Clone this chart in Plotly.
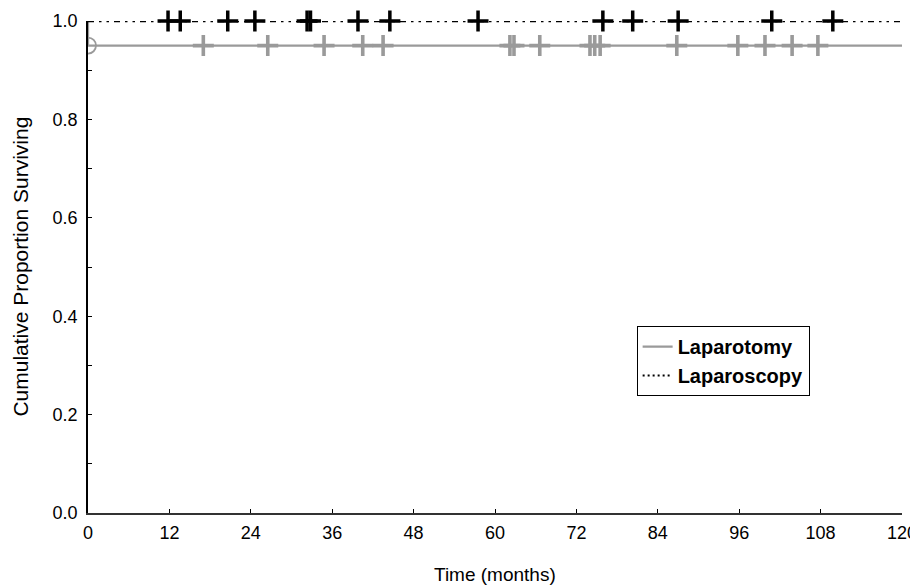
import plotly.graph_objects as go

# ---- data ----
x_ticks = [0, 12, 24, 36, 48, 60, 72, 84, 96, 108, 120]
y_ticks = [0.0, 0.2, 0.4, 0.6, 0.8, 1.0]

laparotomy_time = [0, 0, 120]
laparotomy_surv = [1.0, 0.95, 0.95]
laparotomy_censored = [17.0, 26.5, 34.8, 40.5, 43.5, 62.2, 62.8, 66.6, 74.0, 74.7,
                       75.5, 86.8, 95.8, 99.8, 103.8, 107.6]
laparotomy_censor_surv = 0.95

laparoscopy_time = [0, 120]
laparoscopy_surv = [1.0, 1.0]
laparoscopy_censored = [11.8, 13.6, 20.6, 24.6, 32.3, 32.8, 39.8, 44.5, 57.5, 75.9,
                        80.3, 87.0, 100.8, 109.8]
laparoscopy_censor_surv = 1.0

GRAY = "#9a9a9a"
FONT = "Liberation Sans, Arial, Helvetica, sans-serif"

fig = go.Figure()

# Laparotomy curve
fig.add_trace(go.Scatter(
    x=laparotomy_time, y=laparotomy_surv, mode="lines",
    line=dict(color=GRAY, width=2.3), name="Laparotomy",
    cliponaxis=False, showlegend=True))
# small open marker at the initial drop (half clipped by axis)
fig.add_trace(go.Scatter(
    x=[laparotomy_time[1]], y=[laparotomy_surv[1]], mode="markers",
    marker=dict(symbol="circle-open", size=16, color=GRAY, line=dict(width=1.8, color=GRAY)),
    cliponaxis=True, showlegend=False, hoverinfo="skip"))
fig.add_trace(go.Scatter(
    x=laparotomy_censored, y=[laparotomy_censor_surv] * len(laparotomy_censored),
    mode="markers",
    marker=dict(symbol="cross-thin", size=15, line=dict(width=3.6, color=GRAY), color=GRAY),
    cliponaxis=False, showlegend=False))

# Laparoscopy curve
fig.add_trace(go.Scatter(
    x=laparoscopy_time, y=laparoscopy_surv, mode="lines",
    line=dict(color="black", width=2.5, dash="6px,5px,2.5px,5px,2.5px,5px"),
    cliponaxis=False, showlegend=False))
fig.add_trace(go.Scatter(
    x=[None], y=[None], mode="lines",
    line=dict(color="black", width=2, dash="2px,3px"), name="Laparoscopy",
    showlegend=True))
fig.add_trace(go.Scatter(
    x=laparoscopy_censored, y=[laparoscopy_censor_surv] * len(laparoscopy_censored),
    mode="markers",
    marker=dict(symbol="cross-thin", size=15, line=dict(width=3.5, color="black"), color="black"),
    cliponaxis=False, showlegend=False))

# page body has an 8px margin, so the figure is offset by 8px and sized to fit
fig.update_layout(
    width=910, height=579,
    margin=dict(l=80, r=16, t=13, b=74),
    paper_bgcolor="white", plot_bgcolor="white",
    font=dict(family=FONT, size=18, color="black"),
    showlegend=True,
    legend=dict(
        x=0.674, y=0.38, xanchor="left", yanchor="top",
        bgcolor="white", bordercolor="black", borderwidth=1,
        font=dict(family=FONT, size=20, color="black", weight="bold"),
        tracegroupgap=0, itemwidth=30),
    annotations=[
        dict(text="Time (months)", x=0.5, y=-0.126, xref="paper", yref="paper",
             xanchor="center", yanchor="middle", showarrow=False,
             font=dict(family=FONT, size=19, color="black")),
        dict(text="Cumulative Proportion Surviving", x=-0.084, y=0.5,
             xref="paper", yref="paper", xanchor="center", yanchor="middle",
             textangle=-90, showarrow=False,
             font=dict(family=FONT, size=21, color="black")),
    ],
)

fig.update_xaxes(
    range=[0, 120], tickvals=x_ticks, ticktext=[str(v) for v in x_ticks],
    ticks="inside", ticklen=4, tickwidth=1, tickcolor="black",
    showline=True, linecolor="#333333", linewidth=1.5,
    showgrid=False, zeroline=False, ticklabelstandoff=3, automargin=False,
    ticklabeloverflow="allow",
)
fig.update_yaxes(
    range=[0, 1.0], tickvals=y_ticks, ticktext=[f"{v:.1f}" for v in y_ticks],
    ticks="inside", ticklen=4, tickwidth=1, tickcolor="black",
    minor=dict(dtick=0.1, ticks="inside", ticklen=4, tickcolor="black", showgrid=False),
    showline=True, linecolor="black", linewidth=1.5,
    showgrid=False, zeroline=False, ticklabelstandoff=5, automargin=False,
)

fig.write_html("out.html")
